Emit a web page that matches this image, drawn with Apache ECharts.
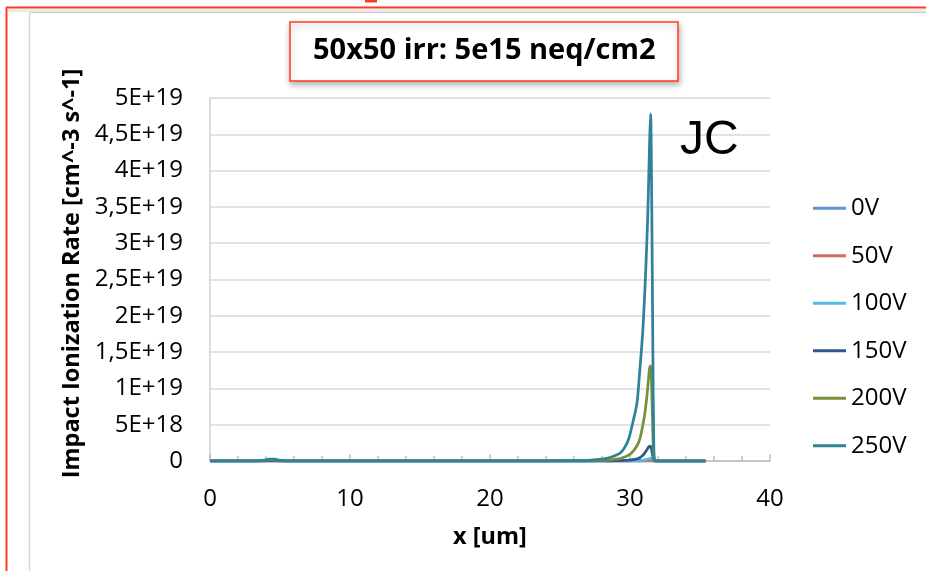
<!DOCTYPE html>
<html>
<head>
<meta charset="utf-8">
<script src="https://cdn.jsdelivr.net/npm/echarts@6/dist/echarts.min.js"></script>
<style>
html,body{margin:0;padding:0;background:#fff;}
#chart{width:926px;height:571px;}
</style>
</head>
<body>
<div id="chart"></div>
<script>
// ---- data (values in units of 1e18 cm^-3 s^-1) ----
const seriesNames = ['0V', '50V', '100V', '150V', '200V', '250V'];
const xValues = [0, 1, 2, 3, 3.8, 4.2, 4.6, 5, 5.5, 6, 8, 10, 12, 14, 16, 18, 20, 22, 24, 26, 27, 28, 28.5, 29, 29.3, 29.6, 29.9, 30.2, 30.5, 30.7, 30.9, 31.05, 31.2, 31.3, 31.4, 31.47, 31.55, 31.63, 31.7, 31.78, 31.9, 32.2, 33, 34, 35.4];
const v0V   = [0, 0, 0, 0, 0, 0, 0, 0, 0, 0, 0, 0, 0, 0, 0, 0, 0, 0, 0, 0, 0, 0, 0, 0, 0, 0, 0, 0, 0, 0, 0, 0, 0, 0, 0, 0, 0, 0, 0, 0, 0, 0, 0, 0, 0];
const v50V  = [0, 0, 0, 0, 0, 0, 0, 0, 0, 0, 0, 0, 0, 0, 0, 0, 0, 0, 0, 0, 0, 0, 0, 0, 0, 0, 0, 0, 0, 0, 0.01, 0.01, 0.02, 0.03, 0.05, 0.05, 0.04, 0.02, 0, 0, 0, 0, 0, 0, 0];
const v100V = [0, 0, 0, 0, 0, 0.02, 0.02, 0, 0, 0, 0, 0, 0, 0, 0, 0, 0, 0, 0, 0, 0, 0, 0, 0, 0.01, 0.01, 0.02, 0.03, 0.05, 0.07, 0.1, 0.15, 0.22, 0.28, 0.34, 0.35, 0.28, 0.12, 0.02, 0, 0, 0, 0, 0, 0];
const v150V = [0, 0, 0, 0, 0.02, 0.05, 0.05, 0.02, 0, 0, 0, 0, 0, 0, 0, 0, 0, 0, 0, 0, 0, 0.01, 0.02, 0.04, 0.06, 0.08, 0.12, 0.18, 0.3, 0.45, 0.75, 1.1, 1.5, 1.85, 2.05, 2.0, 1.5, 0.6, 0.1, 0, 0, 0, 0, 0, 0];
const v200V = [0.01, 0.01, 0.01, 0.01, 0.06, 0.15, 0.15, 0.06, 0.01, 0.01, 0.01, 0.01, 0.01, 0.01, 0.01, 0.01, 0.01, 0.01, 0.01, 0.03, 0.05, 0.1, 0.15, 0.25, 0.35, 0.55, 0.8, 1.3, 2.1, 3.0, 4.8, 6.4, 8.8, 10.8, 12.8, 13.1, 10, 4, 0.3, 0, 0, 0, 0, 0, 0];
const v250V = [0.02, 0.02, 0.02, 0.02, 0.1, 0.25, 0.25, 0.1, 0.03, 0.02, 0.02, 0.02, 0.02, 0.02, 0.02, 0.02, 0.02, 0.02, 0.03, 0.05, 0.1, 0.25, 0.45, 0.8, 1.1, 1.8, 3.0, 5.3, 8.0, 12.5, 17.5, 23, 30, 36, 44, 47.8, 36, 16, 2, 0.05, 0.02, 0.02, 0.02, 0.02, 0.02];
const seriesValues = [v0V, v50V, v100V, v150V, v200V, v250V];
const yTickLabels = ['0', '5E+18', '1E+19', '1,5E+19', '2E+19', '2,5E+19', '3E+19', '3,5E+19', '4E+19', '4,5E+19', '5E+19'];
const xTickLabels = ['0', '10', '20', '30', '40'];
const titleText = '50x50 irr: 5e15 neq/cm2';
const noteText = 'JC';
const xName = 'x [um]';
const yName = 'Impact Ionization Rate [cm^-3 s^-1]';

// ---- styles ----
const colors = ['#5B96D2', '#D46A66', '#4FBCE0', '#2F5B8C', '#77913A', '#2F8297'];
const FONT = '"Open Sans", "Noto Sans", sans-serif';
const RED = '#FF3B1F';

const chart = echarts.init(document.getElementById('chart'), null, {renderer: 'canvas'});

const series = seriesNames.map((name, i) => ({
  name: name,
  type: 'line',
  smooth: 0.3,
  symbol: 'none',
  lineStyle: {width: 2.75, color: colors[i]},
  itemStyle: {color: colors[i]},
  data: xValues.map((x, k) => [x, seriesValues[i][k] * 1e18]),
  z: 2 + i
}));

chart.setOption({
  backgroundColor: '#ffffff',
  animation: false,
  color: colors,
  title: [
    {
      text: titleText,
      left: 290,
      top: 22,
      padding: [12, 23, 13, 23],
      backgroundColor: '#ffffff',
      borderColor: RED,
      borderWidth: 1.5,
      shadowBlur: 6,
      shadowColor: 'rgba(0,0,0,0.3)',
      shadowOffsetX: 1,
      shadowOffsetY: 3,
      textStyle: {fontFamily: FONT, fontWeight: 'bold', fontSize: 29, lineHeight: 34, color: '#000'}
    },
    {
      text: noteText,
      left: 680,
      top: 117,
      padding: 0,
      textStyle: {fontFamily: '"Liberation Sans", Arial, sans-serif', fontWeight: 'normal', fontSize: 48, lineHeight: 48, color: '#000'}
    }
  ],
  legend: {
    orient: 'vertical',
    left: 813,
    top: 196,
    padding: 0,
    icon: 'rect',
    itemWidth: 33,
    itemHeight: 3,
    itemGap: 23,
    textStyle: {fontFamily: FONT, fontSize: 24, lineHeight: 24.5, color: '#000'},
    data: seriesNames
  },
  grid: {left: 210, right: 156, top: 98, bottom: 110, containLabel: false},
  xAxis: {
    type: 'value',
    min: 0,
    max: 40,
    interval: 10,
    name: xName,
    nameLocation: 'middle',
    nameGap: 64,
    nameTextStyle: {fontFamily: FONT, fontWeight: 'bold', fontSize: 23.5, color: '#000'},
    axisLine: {show: true, lineStyle: {color: '#BFBFBF', width: 1.5}},
    axisTick: {show: true, inside: true, length: 7, lineStyle: {color: '#BFBFBF', width: 1.5}},
    minorTick: {show: true, splitNumber: 5, length: 5, lineStyle: {color: '#BFBFBF', width: 1.5}},
    splitLine: {show: false},
    axisLabel: {
      margin: 26,
      fontFamily: FONT, fontSize: 24, color: '#000',
      formatter: v => xTickLabels[Math.round(v / 10)]
    }
  },
  yAxis: {
    type: 'value',
    min: 0,
    max: 5e19,
    interval: 5e18,
    name: yName,
    nameLocation: 'middle',
    nameGap: 118,
    nameTextStyle: {fontFamily: FONT, fontWeight: 'bold', fontSize: 23.5, color: '#000', padding: [0, 0, 0, 12]},
    axisLine: {show: true, lineStyle: {color: '#D0D0D0', width: 1.5}},
    axisTick: {show: false},
    splitLine: {show: true, lineStyle: {color: '#D9D9D9', width: 1.5}},
    axisLabel: {
      margin: 27,
      fontFamily: FONT, fontSize: 24, color: '#000',
      formatter: v => yTickLabels[Math.round(v / 5e18)]
    }
  },
  graphic: [
    {type: 'rect', shape: {x: 8, y: 9, width: 918, height: 3}, style: {fill: '#ECECEC'}, z: -1, silent: true},
    {type: 'line', shape: {x1: 6, y1: 7.5, x2: 926, y2: 7.5}, style: {stroke: RED, lineWidth: 2}, z: 10, silent: true},
    {type: 'line', shape: {x1: 6.5, y1: 7, x2: 6.5, y2: 571}, style: {stroke: RED, lineWidth: 2}, z: 10, silent: true},
    {type: 'rect', shape: {x: 365, y: 0, width: 12, height: 2.5}, style: {fill: RED}, z: 10, silent: true},
    {type: 'line', shape: {x1: 29.5, y1: 12.5, x2: 926, y2: 12.5}, style: {stroke: '#D0D0D0', lineWidth: 1.5}, z: 10, silent: true},
    {type: 'line', shape: {x1: 29.5, y1: 12.5, x2: 29.5, y2: 571}, style: {stroke: '#D8D8D8', lineWidth: 1.5}, z: 10, silent: true}
  ],
  series: series
});
</script>
</body>
</html>
